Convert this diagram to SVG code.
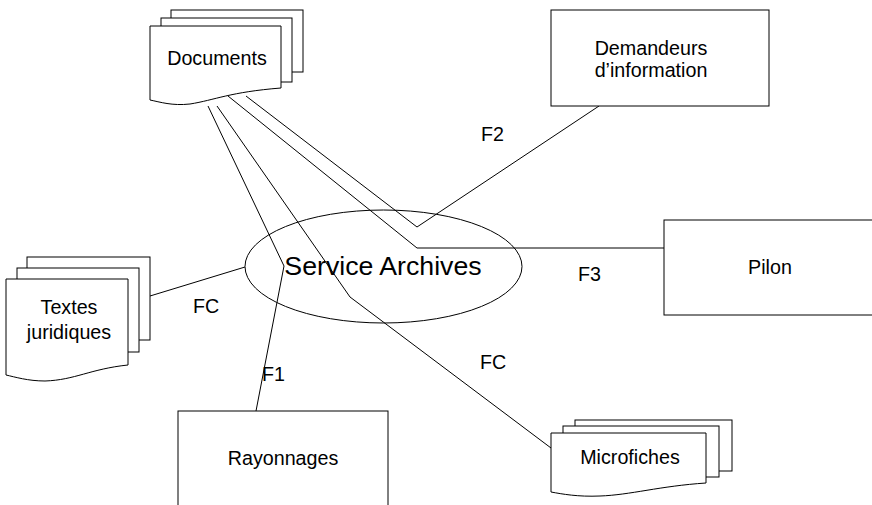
<svg xmlns="http://www.w3.org/2000/svg" width="872" height="505" viewBox="0 0 872 505">
<style>
.s{fill:#fff;stroke:#000;stroke-width:1}
.c{fill:none;stroke:#000;stroke-width:1}
.t{font-family:"Liberation Sans",Arial,sans-serif;font-size:19.7px;fill:#000;text-anchor:middle}
.l{font-family:"Liberation Sans",Arial,sans-serif;font-size:19.7px;fill:#000}
</style>
<rect width="872" height="505" fill="#fff"/>
<g id="connectors">
<polyline class="c" points="208,106 284,266 256,411"/>
<polyline class="c" points="217,106 350,297 551,448"/>
<polyline class="c" points="228,96 417,248 664,248"/>
<polyline class="c" points="246,96 417,227 599,106"/>
<line class="c" x1="245" y1="267" x2="150" y2="296"/>
</g>
<g id="service-archives">
<ellipse class="c" cx="383.5" cy="266.5" rx="138.5" ry="56.5"/>
<text class="t" x="383" y="275" style="font-size:26.7px">Service Archives</text>
</g>
<g id="documents">
<rect class="s" x="171" y="10" width="132" height="62"/>
<rect class="s" x="161" y="18" width="131" height="64"/>
<path class="s" d="M150,26 H281 V88 C230,92 215,100 190,104 C172,106 160,102 150,100 Z"/>
<text class="t" x="217" y="65">Documents</text>
</g>
<g id="demandeurs">
<rect class="s" x="551" y="10" width="218" height="96"/>
<text class="t" x="651" y="55">Demandeurs</text>
<text class="t" x="651" y="77">d’information</text>
</g>
<g id="pilon">
<rect class="s" x="664" y="220" width="212" height="95"/>
<text class="t" x="770" y="274">Pilon</text>
</g>
<g id="textes">
<rect class="s" x="27" y="257" width="123" height="83"/>
<rect class="s" x="17" y="268" width="122" height="84"/>
<path class="s" d="M6,279 H128 V365 C90,369 75,380 45,381 C28,381 15,377 6,375 Z"/>
<text class="t" x="69" y="314">Textes</text>
<text class="t" x="69" y="339">juridiques</text>
</g>
<g id="rayonnages">
<rect class="s" x="178" y="411" width="210" height="110"/>
<text class="t" x="283" y="465">Rayonnages</text>
</g>
<g id="microfiches">
<rect class="s" x="575" y="420" width="157" height="51"/>
<rect class="s" x="563" y="426" width="156" height="51"/>
<path class="s" d="M551,433 H706 V483 C660,486 630,495 600,496 C578,497 562,494 551,492 Z"/>
<text class="t" x="630" y="464">Microfiches</text>
</g>
<g id="labels">
<text class="l" x="481" y="141">F2</text>
<text class="l" x="578" y="281">F3</text>
<text class="l" x="193" y="313">FC</text>
<text class="l" x="262" y="381">F1</text>
<text class="l" x="480" y="369">FC</text>
</g>
</svg>
